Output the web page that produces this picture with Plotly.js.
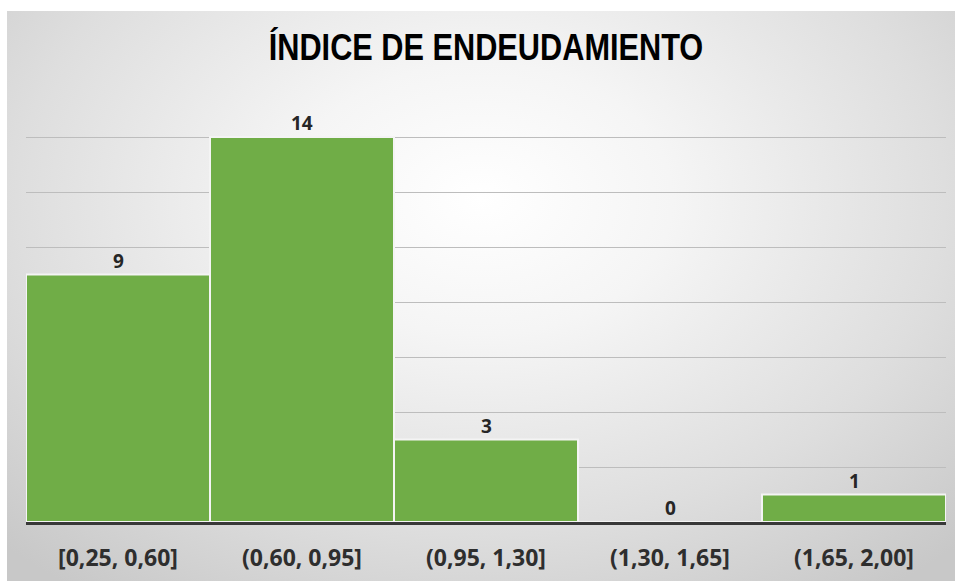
<!DOCTYPE html>
<html>
<head>
<meta charset="utf-8">
<script src="https://cdn.plot.ly/plotly-3.0.1.min.js"></script>
<style>
  html, body { margin: 0; padding: 0; background: #ffffff; width: 955px; height: 581px; overflow: hidden; }
  #frame {
    position: absolute; left: 7px; top: 11px; width: 948px; height: 570px;
    background: radial-gradient(ellipse 72% 85% at 50% 33%, #ffffff 0%, #f5f5f5 28%, #dedede 68%, #c8c8c8 100%);
  }
  #chart { position: absolute; left: 0; top: 0; width: 948px; height: 570px; }
</style>
</head>
<body>
<div id="frame"><div id="chart"></div></div>
<script>
const categories = ["[0,25, 0,60]", "(0,60, 0,95]", "(0,95, 1,30]", "(1,30, 1,65]", "(1,65, 2,00]"];
const counts = [9, 14, 3, 0, 1];
const chartTitle = "ÍNDICE DE ENDEUDAMIENTO";

const trace = {
  type: "bar",
  x: categories,
  y: counts,
  marker: { color: "#70AD47", line: { color: "#f4f4f4", width: 2 } },
  hoverinfo: "x+y"
};

const labels = categories.map((c, i) => ({
  x: c, y: counts[i], xref: "x", yref: "y",
  text: String(counts[i]), showarrow: false,
  yanchor: "bottom", yshift: -1,
  font: { family: "Open Sans, sans-serif", size: 19, weight: 700, color: "#262626" }
}));

const layout = {
  width: 948, height: 570,
  margin: { l: 19, r: 9, t: 71, b: 59 },
  paper_bgcolor: "rgba(0,0,0,0)",
  plot_bgcolor: "rgba(0,0,0,0)",
  title: {
    text: chartTitle,
    font: { family: "Liberation Sans, Arial, sans-serif", size: 37, weight: 700, color: "#000000" },
    xref: "paper", x: 0.5, xanchor: "center",
    yref: "container", y: 0.937, yanchor: "middle"
  },
  bargap: 0,
  showlegend: false,
  xaxis: {
    type: "category",
    showline: true, linecolor: "#383838", linewidth: 3,
    ticks: "", showgrid: false, zeroline: false,
    tickfont: { family: "Open Sans, sans-serif", size: 23, weight: 700, color: "#2e2e2e" },
    ticklabelstandoff: 13
  },
  yaxis: {
    range: [0, 16], dtick: 2, showticklabels: false,
    showgrid: true, gridcolor: "#bdbdbd", gridwidth: 1,
    zeroline: false, showline: false, ticks: ""
  },
  annotations: labels
};

function narrowTitle() {
  const t = document.querySelector("#chart .gtitle");
  if (!t) return;
  const cx = parseFloat(t.getAttribute("x")) || 0;
  t.setAttribute("transform", "translate(" + cx + ",0) scale(0.83,1) translate(" + (-cx) + ",0)");
}

Plotly.newPlot("chart", [trace], layout, { displayModeBar: false, staticPlot: true }).then(narrowTitle);
</script>
</body>
</html>
